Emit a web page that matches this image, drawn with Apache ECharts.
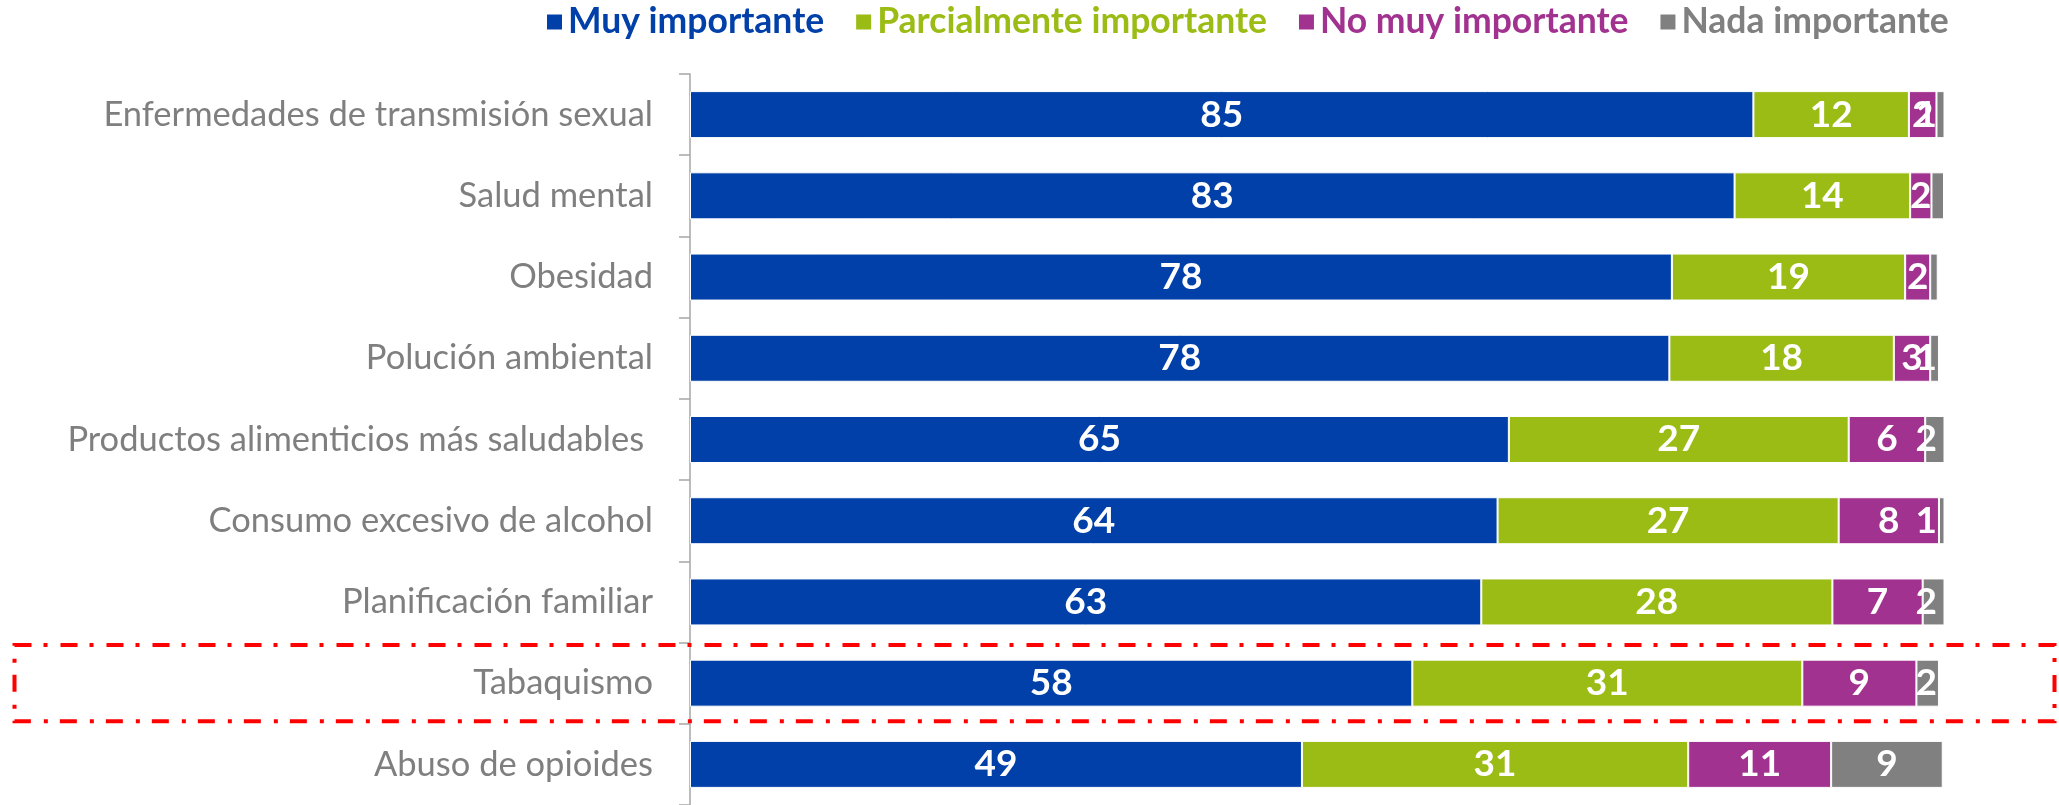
<!DOCTYPE html>
<html>
<head>
<meta charset="utf-8">
<script src="https://cdn.jsdelivr.net/npm/echarts@6/dist/echarts.min.js"></script>
<style>
html,body{margin:0;padding:0;background:#fff;}
#main{width:2059px;height:805px;}
</style>
</head>
<body>
<div id="main"></div>
<script>
const categories = [
  'Enfermedades de transmisión sexual',
  'Salud mental',
  'Obesidad',
  'Polución ambiental',
  'Productos alimenticios más saludables ',
  'Consumo excesivo de alcohol',
  'Planificación familiar',
  'Tabaquismo',
  'Abuso de opioides'
];
const seriesNames = ['Muy importante', 'Parcialmente importante', 'No muy importante', 'Nada importante'];
const muy     = [84.8, 83.3, 78.3, 78.1, 65.3, 64.4, 63.1, 57.6, 48.8];
const parcial = [12.4, 14.0, 18.6, 17.9, 27.1, 27.2, 28.0, 31.1, 30.8];
const noMuy   = [2.2, 1.7, 2.0, 2.9, 6.1, 8.0, 7.2, 9.1, 11.4];
const nada    = [0.8, 1.0, 0.6, 0.7, 1.6, 0.6, 1.9, 1.8, 8.9];
const hiddenNadaLabels = ['Salud mental', 'Obesidad'];
const highlighted = 'Tabaquismo';

const colors = ['#0040A8', '#9BBC14', '#A23290', '#808080'];
const values = [muy, parcial, noMuy, nada];
const FONT = 'Lato';
const GRID = { left: 690, top: 74, width: 1254, height: 735 };

const chart = echarts.init(document.getElementById('main'));

const series = seriesNames.map((name, si) => ({
  name: name,
  type: 'bar',
  stack: 'total',
  barWidth: 47,
  data: values[si],
  itemStyle: { color: colors[si], borderColor: '#ffffff', borderWidth: 1 },
  label: {
    show: true,
    position: 'inside',
    color: '#ffffff',
    fontFamily: FONT,
    fontWeight: 'bold',
    fontSize: 37,
    formatter: p => {
      if (si === 3 && hiddenNadaLabels.indexOf(p.name) >= 0) return '';
      return String(Math.round(p.value));
    }
  },
  labelLayout: si === 3 ? function (p) {
    const lr = p.labelRect;
    const limit = GRID.left + GRID.width - 7;
    const over = lr.x + lr.width - limit;
    if (over <= 0) return {};
    return {
      x: lr.x + lr.width / 2 - over,
      y: lr.y + lr.height / 2,
      align: 'center',
      verticalAlign: 'middle'
    };
  } : undefined,
  emphasis: { disabled: true }
}));

chart.setOption({
  animation: false,
  legend: {
    left: 545,
    top: 4,
    padding: 0,
    icon: 'rect',
    itemWidth: 17,
    itemHeight: 17,
    itemGap: 30,
    data: seriesNames.map((n, i) => ({ name: n, textStyle: { color: colors[i] } })),
    textStyle: { fontFamily: FONT, fontWeight: 'bold', fontSize: 35.5 },
    selectedMode: false
  },
  grid: Object.assign({ containLabel: false }, GRID),
  xAxis: {
    type: 'value',
    min: 0,
    max: 100,
    show: false
  },
  yAxis: {
    type: 'category',
    data: categories,
    inverse: true,
    axisLine: { show: true, lineStyle: { color: '#A6A6A6', width: 1.5 } },
    axisTick: { show: true, length: 11, lineStyle: { color: '#A6A6A6', width: 1.5 } },
    axisLabel: { color: '#7F7F7F', fontFamily: FONT, fontSize: 34.5, margin: 37 },
    splitLine: { show: false }
  },
  series: series
});

const yc = chart.convertToPixel({ yAxisIndex: 0 }, highlighted);
const yn = chart.convertToPixel({ yAxisIndex: 0 }, categories[categories.indexOf(highlighted) + 1]);
const band = Math.abs(yn - yc);
chart.setOption({
  graphic: [{
    type: 'rect',
    z: 100,
    shape: { x: 14.5, y: yc - band * 0.47, width: 2040, height: band * 0.94 },
    style: { fill: 'none', stroke: '#FF0000', lineWidth: 4, lineDash: [17, 12, 4, 13] },
    silent: true
  }]
});
</script>
</body>
</html>
